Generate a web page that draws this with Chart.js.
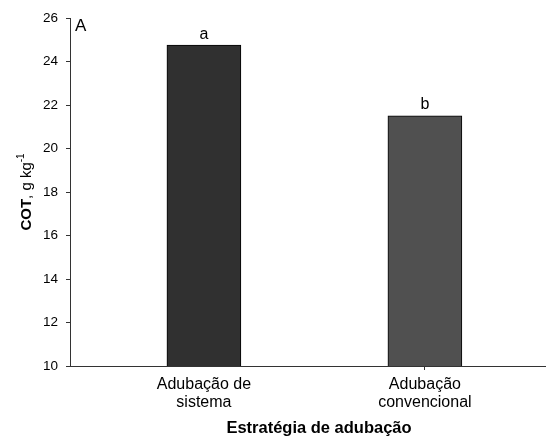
<!DOCTYPE html>
<html>
<head>
<meta charset="utf-8">
<script src="https://cdn.jsdelivr.net/npm/chart.js@4"></script>
<style>
  html, body { margin: 0; padding: 0; background: #fff; }
  #wrap { width: 546px; height: 437px; }
</style>
</head>
<body>
<div id="wrap"><canvas id="grafico" width="546" height="437"></canvas></div>
<script>
// dados
const categorias = [['Adubação de', 'sistema'], ['Adubação', 'convencional']];
const posicoes = [1, 2];
const cot = [24.75, 21.5];
const letras = ['a', 'b'];
const coresBarras = ['#303030', '#505050'];
const yTicks = [10, 12, 14, 16, 18, 20, 22, 24, 26];

const FONTE = "'Liberation Sans', Arial, sans-serif";
const TINTA = '#000';
const EIXO = '#333';

// letras de significância + rótulo do painel + título do eixo Y
const extras = {
  id: 'extras',
  afterDatasetsDraw(chart) {
    const { ctx, scales: { x, y }, chartArea } = chart;
    ctx.save();
    ctx.fillStyle = TINTA;
    ctx.font = `16px ${FONTE}`;
    ctx.textAlign = 'center';
    ctx.textBaseline = 'bottom';
    letras.forEach((l, i) => {
      ctx.fillText(l, x.getPixelForValue(posicoes[i]), y.getPixelForValue(cot[i]) - 3);
    });

    // painel "A"
    ctx.font = `17px ${FONTE}`;
    ctx.textAlign = 'left';
    ctx.textBaseline = 'top';
    ctx.fillText('A', chartArea.left + 5, chartArea.top);

    // título do eixo Y: COT (negrito), g kg-1
    const cx = 27, cy = (chartArea.top + chartArea.bottom) / 2;
    ctx.translate(cx, cy);
    ctx.rotate(-Math.PI / 2);
    const partes = [
      { t: 'COT', f: `bold 15px ${FONTE}`, dy: 0 },
      { t: ', g kg', f: `15px ${FONTE}`, dy: 0 },
      { t: '-1', f: `10px ${FONTE}`, dy: -6 }
    ];
    let total = 0;
    partes.forEach(p => { ctx.font = p.f; p.w = ctx.measureText(p.t).width; total += p.w; });
    let px = -total / 2;
    ctx.textBaseline = 'middle';
    partes.forEach(p => {
      ctx.font = p.f;
      ctx.fillText(p.t, px, p.dy);
      px += p.w;
    });
    ctx.restore();
  }
};

new Chart(document.getElementById('grafico'), {
  type: 'bar',
  data: {
    datasets: [{
      data: posicoes.map((p, i) => ({ x: p, y: cot[i] })),
      backgroundColor: coresBarras,
      borderColor: '#000',
      borderWidth: 1,
      barThickness: 74
    }]
  },
  options: {
    responsive: false,
    animation: false,
    layout: { padding: { top: 18, right: 0, left: 0, bottom: 0 } },
    plugins: { legend: { display: false }, tooltip: { enabled: false } },
    scales: {
      x: {
        type: 'linear',
        offset: false,
        min: 0.394,
        max: 2.548,
        afterBuildTicks: s => { s.ticks = posicoes.map(v => ({ value: v })); },
        afterFit: s => { s.height = 71; },
        ticks: {
          color: TINTA,
          font: { family: FONTE, size: 16, lineHeight: 1.15 },
          padding: 5,
          maxRotation: 0,
          callback: (v) => categorias[posicoes.indexOf(v)] || ''
        },
        grid: {
          offset: false,
          drawOnChartArea: false,
          tickLength: 4,
          color: c => (c.index === 1 ? EIXO : 'rgba(0,0,0,0)')
        },
        border: { display: true, color: EIXO, width: 1 }
      },
      y: {
        min: 10,
        max: 26,
        afterBuildTicks: s => { s.ticks = yTicks.map(v => ({ value: v })); },
        afterFit: s => { s.width = 70; },
        ticks: {
          color: TINTA,
          font: { family: FONTE, size: 13.5 },
          padding: 8
        },
        grid: { drawOnChartArea: false, tickLength: 4, color: EIXO },
        border: { display: true, color: EIXO, width: 1 }
      }
    }
  },
  plugins: [extras, {
    id: 'tituloX',
    afterDraw(chart) {
      const { ctx } = chart;
      ctx.save();
      ctx.fillStyle = TINTA;
      ctx.font = `bold 16.5px ${FONTE}`;
      ctx.textAlign = 'center';
      ctx.textBaseline = 'middle';
      ctx.fillText('Estratégia de adubação', 319, 428);
      ctx.restore();
    }
  }]
});
</script>
</body>
</html>
